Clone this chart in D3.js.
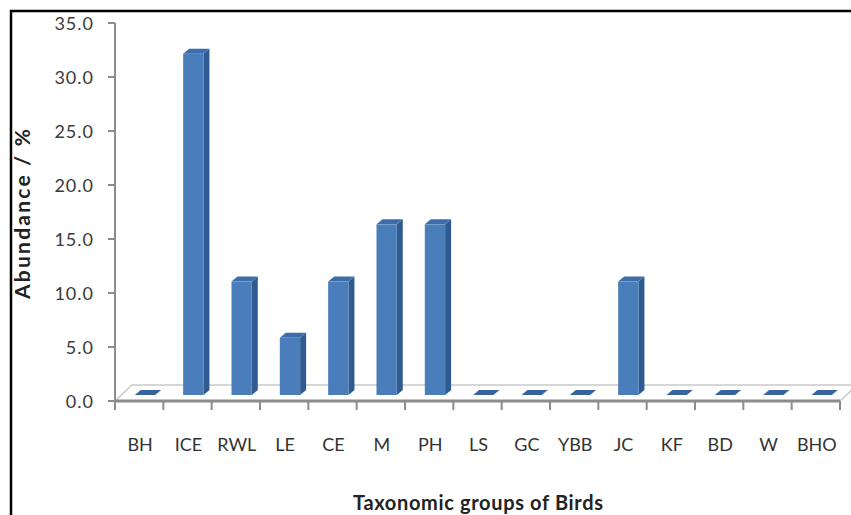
<!DOCTYPE html>
<html>
<head>
<meta charset="utf-8">
<script src="https://cdn.jsdelivr.net/npm/d3@7"></script>
<style>
  html, body { margin: 0; padding: 0; background: #fff; }
  svg { display: block; }
  text { font-family: Lato, "Open Sans", sans-serif; }
</style>
</head>
<body>
<svg id="chart" width="851" height="515"></svg>
<script>
// Taxonomic groups of birds and their relative abundance (%)
const categories = ["BH", "ICE", "RWL", "LE", "CE", "M", "PH", "LS", "GC", "YBB", "JC", "KF", "BD", "W", "BHO"];
const abundance = [0, 31.6, 10.5, 5.3, 10.5, 15.8, 15.8, 0, 0, 0, 10.5, 0, 0, 0, 0];
const yTicks = [0, 5, 10, 15, 20, 25, 30, 35];

const svg = d3.select("#chart");
const W = 851, H = 515;

// outer frame
svg.append("rect")
  .attr("x", 11).attr("y", 11)
  .attr("width", W + 20).attr("height", H + 20)
  .attr("fill", "none").attr("stroke", "#000").attr("stroke-width", 2.5);

const x = d3.scaleBand().domain(categories).range([115, 840]).paddingInner(0).paddingOuter(0);
const y = d3.scaleLinear().domain([0, 35]).range([401, 23]);

// oblique depth offsets for the 3D look
const floorDx = 17, floorDy = -16;
const barDx = 6, barDy = -5;
const barShift = -6; // bars stand a little behind the front edge

// floor
const x0 = x.range()[0], x1 = x.range()[1], yf = y(0);
svg.append("path")
  .attr("d", `M${x0},${yf} L${x0 + floorDx},${yf + floorDy} L${x1 + floorDx},${yf + floorDy} L${x1},${yf}`)
  .attr("fill", "none").attr("stroke", "#c9c9c9").attr("stroke-width", 1.6);

// bars
const bw = x.bandwidth();
const g = svg.append("g");
categories.forEach((c, i) => {
  const v = abundance[i];
  const left = x(c) + bw * 0.41;
  const w = bw * 0.42;
  const base = y(0) + barShift;
  const top = y(v) + barShift;
  // right side face
  g.append("path")
    .attr("d", `M${left + w},${base} L${left + w + barDx},${base + barDy} L${left + w + barDx},${top + barDy} L${left + w},${top} Z`)
    .attr("fill", "#2f5b91");
  // top face
  g.append("path")
    .attr("d", `M${left},${top} L${left + barDx},${top + barDy} L${left + w + barDx},${top + barDy} L${left + w},${top} Z`)
    .attr("fill", v > 0 ? "#3d6eab" : "#35649e");
  // front face
  if (v > 0) {
    g.append("rect")
      .attr("x", left).attr("y", top)
      .attr("width", w).attr("height", base - top)
      .attr("fill", "#4a7ebb");
  }
});

// y axis
const yAxis = svg.append("g");
yAxis.append("line")
  .attr("x1", x0).attr("x2", x0).attr("y1", y(35)).attr("y2", y(0))
  .attr("stroke", "#8c8c8c").attr("stroke-width", 2);
yAxis.selectAll("line.tick").data(yTicks).join("line")
  .attr("class", "tick")
  .attr("x1", x0 - 7).attr("x2", x0)
  .attr("y1", d => y(d)).attr("y2", d => y(d))
  .attr("stroke", "#8c8c8c").attr("stroke-width", 2);
yAxis.selectAll("text").data(yTicks).join("text")
  .attr("x", 94).attr("y", d => y(d) + 1)
  .attr("dy", "0.35em")
  .attr("text-anchor", "end")
  .attr("font-size", 18)
  .attr("letter-spacing", 1)
  .attr("fill", "#3a3a3a")
  .text(d3.format(".1f"));

// x axis
const xAxis = svg.append("g");
xAxis.append("line")
  .attr("x1", x0).attr("x2", x1).attr("y1", yf).attr("y2", yf)
  .attr("stroke", "#8c8c8c").attr("stroke-width", 3);
const bounds = categories.map(c => x(c)).concat([x1]);
xAxis.selectAll("line.tick").data(bounds).join("line")
  .attr("class", "tick")
  .attr("x1", d => d).attr("x2", d => d)
  .attr("y1", yf).attr("y2", yf + 9)
  .attr("stroke", "#8c8c8c").attr("stroke-width", 2);
xAxis.selectAll("text").data(categories).join("text")
  .attr("x", d => x(d) + bw / 2 + 1)
  .attr("y", 445)
  .attr("dy", "0.35em")
  .attr("text-anchor", "middle")
  .attr("font-size", 18)
  .attr("fill", "#333")
  .text(d => d);

// axis titles
svg.append("text")
  .attr("transform", "translate(23,214) rotate(-90)")
  .attr("text-anchor", "middle")
  .attr("dy", "0.35em")
  .attr("font-size", 21)
  .attr("font-weight", "bold")
  .attr("fill", "#222")
  .attr("textLength", 170)
  .attr("lengthAdjust", "spacing")
  .text("Abundance / %");

svg.append("text")
  .attr("x", 478).attr("y", 503)
  .attr("dy", "0.35em")
  .attr("text-anchor", "middle")
  .attr("font-size", 20)
  .attr("font-weight", "bold")
  .attr("fill", "#222")
  .attr("textLength", 250)
  .attr("lengthAdjust", "spacing")
  .text("Taxonomic groups  of Birds");
</script>
</body>
</html>
